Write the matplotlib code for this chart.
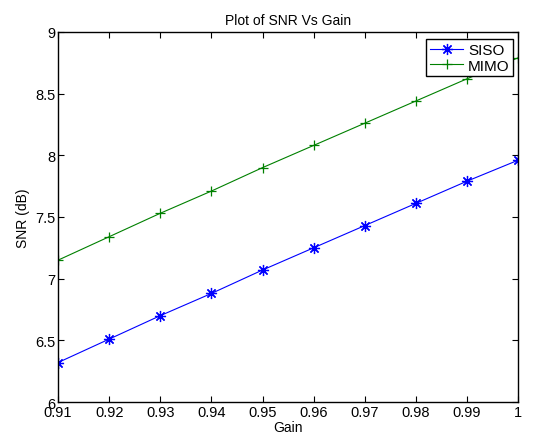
import matplotlib
matplotlib.use("Agg")
import matplotlib.pyplot as plt

gain = [0.91, 0.92, 0.93, 0.94, 0.95, 0.96, 0.97, 0.98, 0.99, 1.00]
snr_siso = [6.32, 6.51, 6.70, 6.88, 7.07, 7.25, 7.43, 7.61, 7.79, 7.96]
snr_mimo = [7.15, 7.34, 7.53, 7.71, 7.90, 8.08, 8.26, 8.44, 8.62, 8.79]
xticks = [0.91, 0.92, 0.93, 0.94, 0.95, 0.96, 0.97, 0.98, 0.99, 1]
xticklabels = ["0.91", "0.92", "0.93", "0.94", "0.95", "0.96", "0.97", "0.98", "0.99", "1"]
yticks = [6, 6.5, 7, 7.5, 8, 8.5, 9]
yticklabels = ["6", "6.5", "7", "7.5", "8", "8.5", "9"]

plt.rcParams['font.family'] = ['Liberation Sans', 'DejaVu Sans']
plt.rcParams['font.size'] = 10

fig = plt.figure(figsize=(5.33, 4.39), dpi=100)
ax = fig.add_axes([0.109, 0.082, 0.863, 0.843])

# matlab-style asterisk (8 spokes)
ax.plot(gain, snr_siso, color='#0000ff', marker=(8, 2, 0), markersize=8, markeredgewidth=0.9,
        linewidth=0.8, label='SISO')
ax.plot(gain, snr_mimo, color='#008000', marker='+', markersize=7, markeredgewidth=0.9,
        linewidth=0.8, label='MIMO')

ax.set_xlim(0.91, 1.0)
ax.set_ylim(6, 9)
ax.set_xticks(xticks)
ax.set_xticklabels(xticklabels)
ax.set_yticks(yticks)
ax.set_yticklabels(yticklabels)
ax.tick_params(direction='in', top=True, right=True, length=4, pad=2, labelsize=10.5)
for s in ax.spines.values():
    s.set_linewidth(1.0)

ax.set_xlabel('Gain', labelpad=1)
ax.set_ylabel('SNR (dB)', labelpad=4)
ax.set_title('Plot of SNR Vs Gain', fontsize=10, pad=6)

leg = ax.legend(loc='upper right', fancybox=False, framealpha=1, edgecolor='black',
                bbox_to_anchor=(0.99, 0.98), borderaxespad=0, handlelength=2.2,
                handletextpad=0.3, borderpad=0.25, labelspacing=0.1, fontsize=11)
leg.get_frame().set_linewidth(1.0)

plt.savefig('out.png', dpi=100)
plt.close('all')
